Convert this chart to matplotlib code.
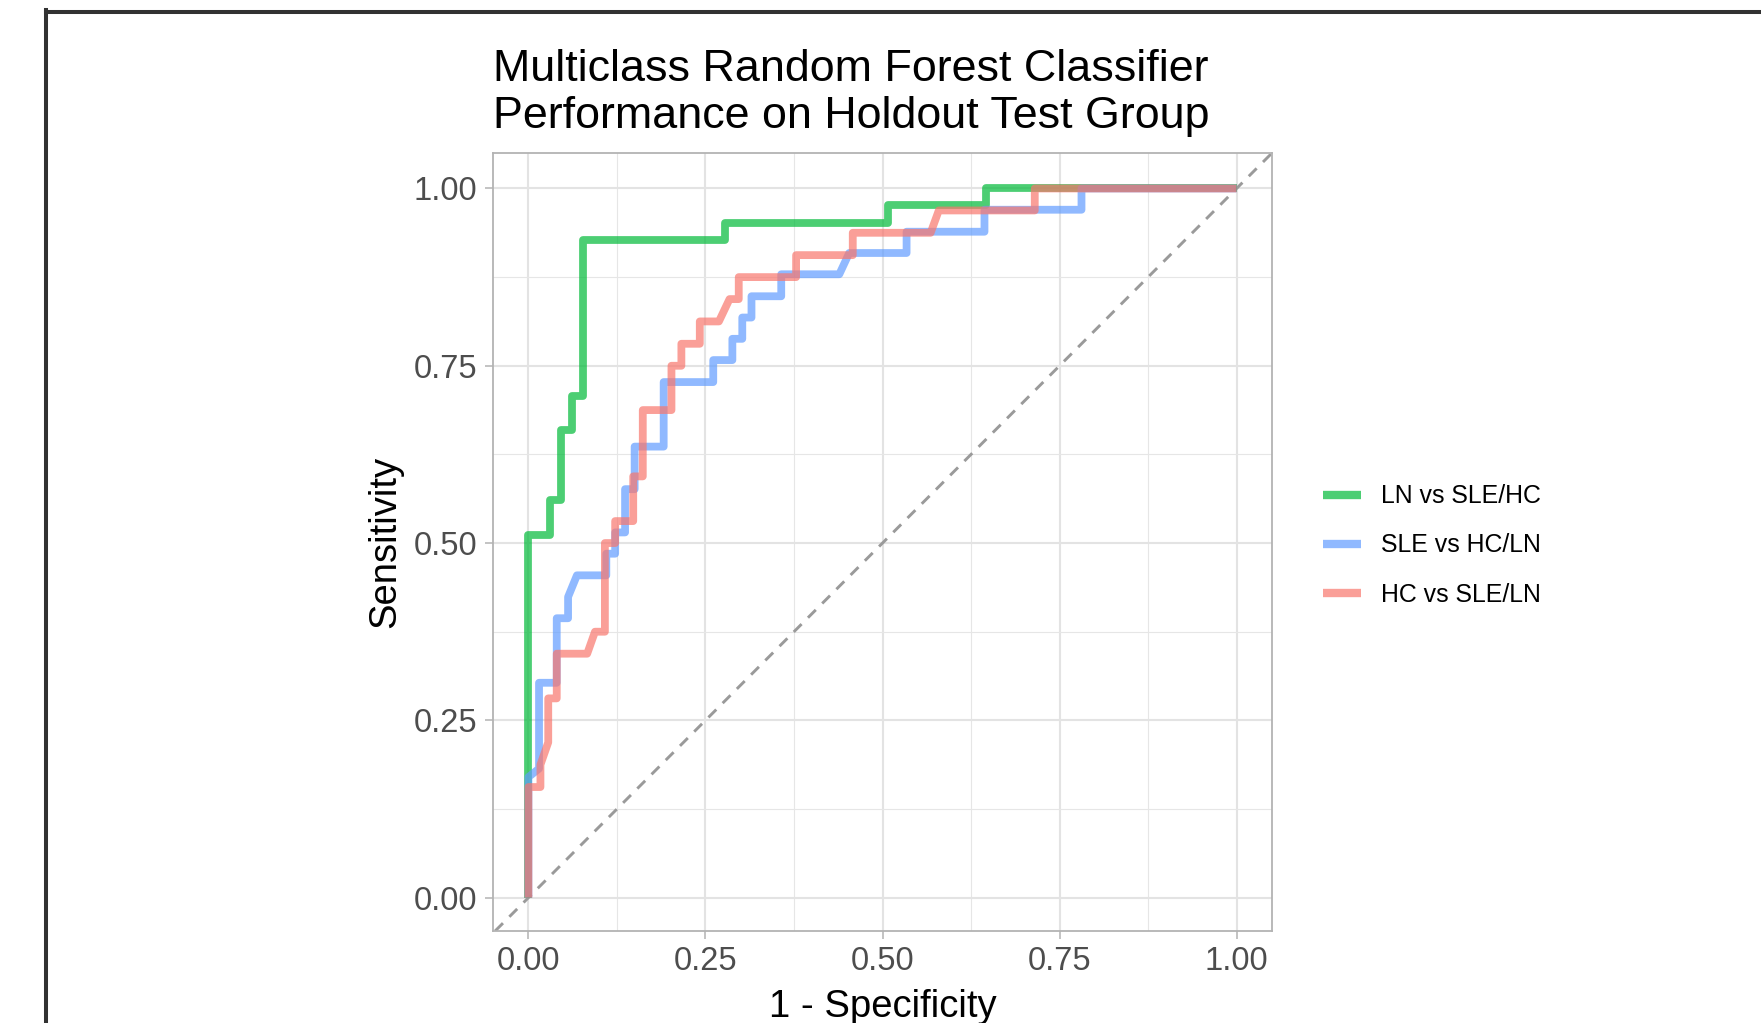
import matplotlib
matplotlib.use('Agg')
import matplotlib.pyplot as plt
from matplotlib.lines import Line2D

plt.rcParams['font.family'] = ['Liberation Sans', 'DejaVu Sans']

# ROC vertices: (1 - specificity, sensitivity)
ln_fpr = [0, 0, 0.031, 0.031, 0.046, 0.046, 0.062, 0.062, 0.077, 0.077,
          0.277, 0.277, 0.508, 0.508, 0.646, 0.646, 1.0]
ln_tpr = [0, 0.512, 0.512, 0.561, 0.561, 0.659, 0.659, 0.707, 0.707, 0.927,
          0.927, 0.951, 0.951, 0.976, 0.976, 1.0, 1.0]

sle_fpr = [0, 0, 0.015, 0.015, 0.040, 0.040, 0.056, 0.056, 0.0685, 0.110,
           0.110, 0.1225, 0.1225, 0.1365, 0.1365, 0.150, 0.150, 0.191, 0.191,
           0.261, 0.261, 0.288, 0.288, 0.302, 0.302, 0.315, 0.315, 0.357,
           0.357, 0.439, 0.453, 0.534, 0.534, 0.644, 0.644, 0.781, 0.781, 1.0]
sle_tpr = [0, 0.170, 0.182, 0.303, 0.303, 0.394, 0.394, 0.424, 0.4545, 0.4545,
           0.485, 0.485, 0.515, 0.515, 0.576, 0.576, 0.636, 0.636, 0.727,
           0.727, 0.758, 0.758, 0.788, 0.788, 0.818, 0.818, 0.848, 0.848,
           0.879, 0.879, 0.909, 0.909, 0.939, 0.939, 0.970, 0.970, 1.0, 1.0]

hc_fpr = [0, 0, 0.017, 0.017, 0.028, 0.028, 0.040, 0.040, 0.083, 0.094,
          0.108, 0.108, 0.1225, 0.1225, 0.148, 0.148, 0.1615, 0.1615, 0.202,
          0.202, 0.216, 0.216, 0.242, 0.242, 0.269, 0.284, 0.297, 0.297,
          0.378, 0.378, 0.458, 0.458, 0.568, 0.5795, 0.715, 0.715, 1.0]
hc_tpr = [0, 0.156, 0.156, 0.1875, 0.219, 0.281, 0.281, 0.344, 0.344, 0.375,
          0.375, 0.500, 0.500, 0.531, 0.531, 0.594, 0.594, 0.6875, 0.6875,
          0.750, 0.750, 0.781, 0.781, 0.8125, 0.8125, 0.844, 0.844, 0.875,
          0.875, 0.906, 0.906, 0.9375, 0.9375, 0.969, 0.969, 1.0, 1.0]

labels = ['LN vs SLE/HC', 'SLE vs HC/LN', 'HC vs SLE/LN']
colors = ['#00BA38', '#619CFF', '#F8766D']
ticks = [0.00, 0.25, 0.50, 0.75, 1.00]
tick_labels = ['0.00', '0.25', '0.50', '0.75', '1.00']
minor_ticks = [0.125, 0.375, 0.625, 0.875]

W, H = 1761, 1023
fig = plt.figure(figsize=(W / 100, H / 100), dpi=100)
fig.patch.set_facecolor('white')

# panel position in pixels of the original
px_l, px_r, px_t, px_b = 493, 1272, 153, 931
ax = fig.add_axes([px_l / W, 1 - px_b / H, (px_r - px_l) / W, (px_b - px_t) / H])

# chance line
ax.axline((0, 0), (1, 1), color='#9a9a9a', lw=2.1, dashes=(3.8, 3.1), zorder=2)

curves = [(ln_fpr, ln_tpr), (sle_fpr, sle_tpr), (hc_fpr, hc_tpr)]
for (fx, ty), c in zip(curves, colors):
    ax.plot(fx, ty, color=c, alpha=0.7, lw=5.6, solid_joinstyle='round',
            solid_capstyle='butt', zorder=3)

ax.set_xlim(-0.05, 1.05)
ax.set_ylim(-0.047, 1.05)
ax.set_xticks(ticks)
ax.set_xticklabels(tick_labels)
ax.set_yticks(ticks)
ax.set_yticklabels(tick_labels)
ax.set_xticks(minor_ticks, minor=True)
ax.set_yticks(minor_ticks, minor=True)

ax.grid(which='major', color='#E3E3E3', lw=1.5, zorder=0)
ax.grid(which='minor', color='#E6E6E6', lw=0.8, zorder=0)
ax.set_axisbelow(True)

for s in ax.spines.values():
    s.set_color('#B3B3B3')
    s.set_linewidth(1.3)

ax.tick_params(which='major', length=5.8, width=1.1, color='#B3B3B3',
               labelsize=23.5, labelcolor='#4D4D4D', pad=5.3)
ax.tick_params(which='minor', length=0)

ax.set_xlabel('1 - Specificity', fontsize=27.5, color='black', labelpad=8)
ax.set_ylabel('Sensitivity', fontsize=27.5, color='black', labelpad=8)

# title, two lines aligned with the panel's left edge
fig.text(px_l / W, 1 - 81 / H, 'Multiclass Random Forest Classifier',
         fontsize=32.3, va='baseline', ha='left')
fig.text(px_l / W, 1 - 128 / H, 'Performance on Holdout Test Group',
         fontsize=32.3, va='baseline', ha='left')

# legend
handles = [Line2D([0], [0], color=c, lw=6, alpha=0.7, solid_capstyle='butt')
           for c in colors]
ax.legend(handles, labels, loc='center left',
          bbox_to_anchor=(1323 / W, 1 - 545.5 / H), bbox_transform=fig.transFigure,
          frameon=False, fontsize=17.9, handlelength=1.53, handletextpad=0.8,
          labelspacing=1.01, borderpad=0, borderaxespad=0)

# dark outer frame, only top and left edges fall inside the picture
fig.add_artist(Line2D([45.5 / W, 45.5 / W], [-0.01, 1 - 10 / H],
                      transform=fig.transFigure, color='#323232', lw=2.9,
                      solid_capstyle='projecting'))
fig.add_artist(Line2D([45.5 / W, 1.01], [1 - 12 / H, 1 - 12 / H],
                      transform=fig.transFigure, color='#323232', lw=2.9,
                      solid_capstyle='projecting'))

fig.savefig('out.png', dpi=100, facecolor='white')
